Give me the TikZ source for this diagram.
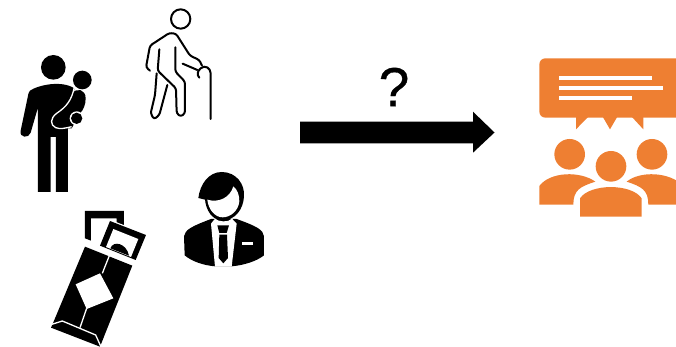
\documentclass[tikz,border=0pt]{standalone}
\usepackage{fontspec}
\setmainfont{Liberation Sans}
\newfontfamily\qmarkfont[FakeBold=0.6]{Liberation Sans}
\definecolor{talk}{HTML}{EE7F32}
\tikzset{
  ink/.style={fill=black,draw=none},
  gap/.style={fill=white,draw=none},
  gapline/.style={draw=white,line width=1.3pt,line join=round},
  walker/.style={draw=black,line width=2pt,line cap=round,line join=round,rounded corners=2.5pt},
  talkfill/.style={fill=talk,draw=none},
  bar/.style={fill=white,draw=none}
}
\begin{document}
\begin{tikzpicture}[x=1pt,y=-1pt]
\useasboundingbox (0,0) rectangle (676,347);
% arrow and question mark
\fill[black] (300,121.7) -- (473,121.7) -- (473,111.7) -- (494.5,132.5) -- (473,152.7) -- (473,143.3) -- (300,143.3) -- cycle;
\node[font=\qmarkfont\fontsize{55}{55}\selectfont,inner sep=0pt] (question) at (394,87) {?};
% man carrying a child
\begin{scope}[shift={(15,50)},x=0.3333pt,y=-0.3333pt]
\fill[ink] (115,52) circle (37);
\fill[ink] (202,90) circle (28);
\fill[ink] (45,122) .. controls (70,105) and (140,90) .. (178,115) -- (175,170) -- (159,232) -- (159,426) -- (123,426) -- (123,261) -- (107,261) -- (107,426) -- (69,426) -- (69,172) -- (47,248) .. controls (42,266) and (12,264) .. (17,242) -- (38,142) .. controls (40,130) and (42,125) .. (45,122) -- cycle;
\fill[ink] (172,130) .. controls (185,112) and (212,118) .. (212,145) .. controls (212,165) and (205,180) .. (195,190) -- (170,235) -- (130,235) -- (110,215) .. controls (115,195) and (160,170) .. (172,130) -- cycle;
\draw[gapline] (178,112) .. controls (170,150) and (155,170) .. (125,190) .. controls (105,205) and (105,225) .. (122,233) .. controls (135,238) and (150,235) .. (170,230);
\fill[gap] (185,205) circle (21);
\fill[ink] (185,205) circle (17);
\end{scope}
% old man with cane
\begin{scope}[shift={(140,5)},x=0.3333pt,y=-0.3333pt]
\draw[walker,rounded corners=0pt] (122,42) circle (29);
\draw[walker] (30,197) -- (18,187) -- (30,122) -- (88,84) -- (108,86) -- (150,152) -- (178,165) -- (186,182);
\draw[walker,rounded corners=0pt] (128,176) -- (172,195);
\draw[walker,rounded corners=0pt] (212,342) -- (212,205) .. controls (212,190) and (195,178) .. (182,190) .. controls (172,198) and (170,210) .. (178,218);
\draw[walker] (58,133) -- (53,197) -- (108,250) -- (110,325) -- (122,335) -- (135,325) -- (135,230) -- (106,200) -- (106,127);
\draw[walker] (50,205) -- (45,270) -- (32,325) -- (42,343) -- (58,330) -- (82,240);
\end{scope}
% businessman
\begin{scope}[shift={(180,168)},x=0.3333pt,y=-0.3333pt]
\fill[ink] (14,262) -- (12,205) .. controls (15,185) and (35,175) .. (93,153) -- (170,153) .. controls (230,175) and (250,185) .. (252,205) -- (252,262) .. controls (230,280) and (190,292) .. (155,295) -- (105,295) .. controls (70,292) and (35,280) .. (14,262) -- cycle;
\fill[ink] (55,90) .. controls (60,50) and (85,12) .. (125,12) .. controls (170,12) and (195,50) .. (192,85) .. controls (190,125) and (165,155) .. (130,158) .. controls (95,158) and (78,125) .. (75,95) -- cycle;
\fill[gap] (82,95) .. controls (115,105) and (150,90) .. (160,55) .. controls (172,65) and (178,80) .. (178,100) .. controls (175,130) and (150,148) .. (128,148) .. controls (105,148) and (85,125) .. (82,95) -- cycle;
\fill[gap] (93,167) -- (105,152) .. controls (115,162) and (145,164) .. (156,152) -- (170,167) -- (155,296) -- (105,296) -- cycle;
\fill[ink] (112,172) -- (147,172) -- (140,195) -- (118,195) -- cycle;
\fill[ink] (118,200) -- (141,200) -- (144,270) -- (130,286) -- (116,270) -- cycle;
\fill[gap] (185,222) -- (218,222) -- (218,230) -- (185,230) -- cycle;
\end{scope}
% envelope with banknotes
\begin{scope}[shift={(45,205)},x=0.3333pt,y=-0.3333pt]
\fill[ink] (120,18) -- (237,18) -- (237,70) -- (215,70) -- (215,40) -- (138,40) -- (138,107) -- (120,100) -- cycle;
\fill[gap] (190,42) -- (318,92) -- (285,175) -- (155,125) -- cycle;
\fill[ink] (195,48) -- (303,90) -- (272,165) -- (165,122) -- cycle;
\fill[gap] (205,72) -- (280,102) -- (258,156) -- (183,126) -- cycle;
\fill[ink] (196,130) .. controls (205,105) and (245,115) .. (252,152) -- cycle;
\fill[ink] (120,125) -- (262,182) -- (165,425) -- (18,368) -- (25,352) -- cycle;
\draw[gapline] (14,360) -- (52,348) -- (152,390) -- (170,430);
\draw[gapline] (193,152) -- (172,205);
\draw[gapline] (125,310) -- (105,368);
\fill[gap] (92,238) -- (165,205) -- (205,280) -- (125,312) -- cycle;
\end{scope}
% audience with speech bubble
\begin{scope}[shift={(530,50)},x=0.3333pt,y=-0.3333pt]
\clip (0,0) rectangle (438,520);
\fill[talkfill,rounded corners=6pt] (28,25) rectangle (470,203);
\fill[talkfill] (138,200) -- (138,238) -- (175,200) -- cycle;
\fill[talkfill] (218,200) -- (240,238) -- (262,200) -- cycle;
\fill[talkfill] (305,200) -- (340,238) -- (340,200) -- cycle;
\fill[bar] (87,78) rectangle (365,91);
\fill[bar] (87,108) rectangle (400,121);
\fill[bar] (87,138) rectangle (305,151);
\fill[talkfill] (119,313) circle (46);
\fill[talkfill] (243,349) circle (46);
\fill[talkfill] (366,313) circle (46);
\fill[talkfill] (28,464) -- (28,408) .. controls (60,365) and (150,362) .. (196,395) .. controls (150,410) and (130,420) .. (130,464) -- cycle;
\fill[talkfill] (150,500) -- (150,445) .. controls (180,400) and (305,400) .. (335,445) -- (335,500) -- cycle;
\fill[talkfill] (355,464) .. controls (355,420) and (335,410) .. (290,395) .. controls (330,362) and (420,365) .. (460,408) -- (460,464) -- cycle;
\end{scope}
\end{tikzpicture}
\end{document}
